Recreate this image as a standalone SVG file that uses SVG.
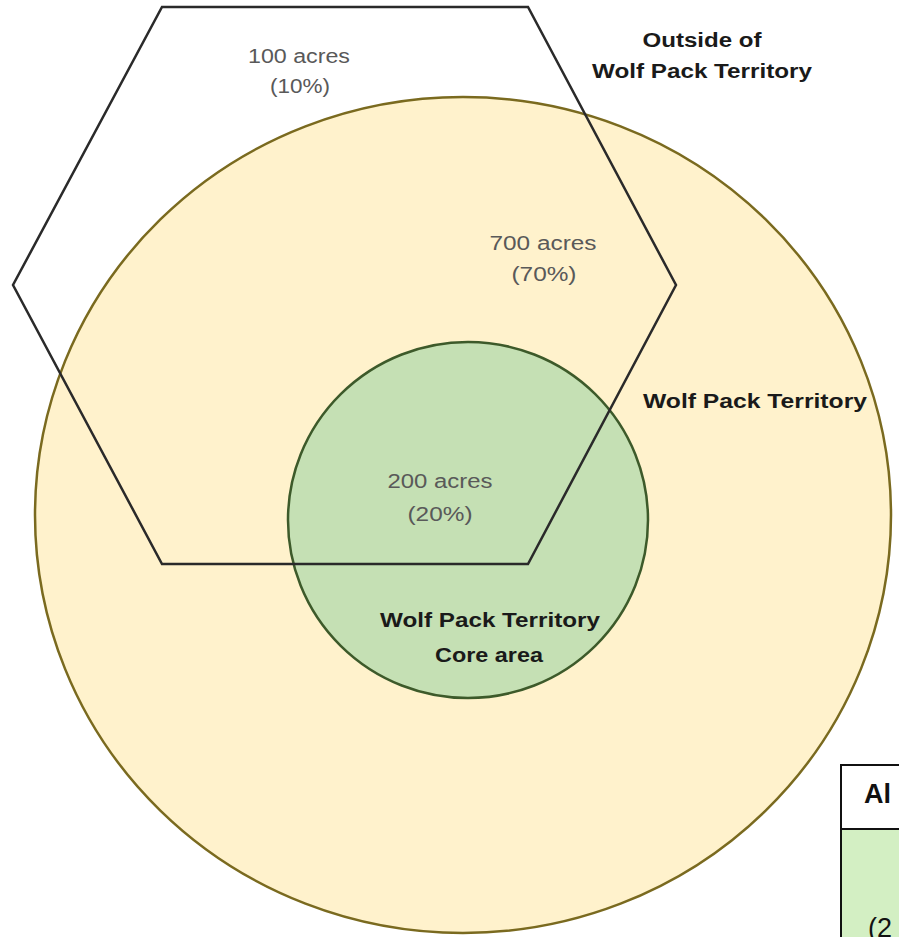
<svg xmlns="http://www.w3.org/2000/svg" width="899" height="937" viewBox="0 0 899 937">
  <style>
    .lbl { font-family: "Liberation Sans", Arial, sans-serif; font-size: 20px; fill: #595959; text-anchor: middle; }
    .bold { font-family: "Liberation Sans", Arial, sans-serif; font-size: 20px; font-weight: bold; fill: #1a1a1a; text-anchor: middle; }
    .tbl { font-family: "Liberation Sans", Arial, sans-serif; font-size: 27px; fill: #111; }
  </style>
  <rect x="0" y="0" width="899" height="937" fill="#ffffff"/>

  <g id="territory">
    <ellipse cx="463" cy="515" rx="428" ry="418" fill="#fff2cc" stroke="#7a6a1f" stroke-width="2.5"/>
  </g>

  <g id="core-area">
    <ellipse cx="468" cy="520" rx="180" ry="178" fill="#c5e0b4" stroke="#3d5a2a" stroke-width="2.5"/>
  </g>

  <g id="hexagon">
    <polygon points="162,7 528,7 676,285 528,564 162,564 13,285" fill="none" stroke="#2a2a2a" stroke-width="2.5" stroke-linejoin="miter"/>
  </g>

  <g id="labels">
    <text class="lbl" x="299" y="63" textLength="102" lengthAdjust="spacingAndGlyphs">100 acres</text>
    <text class="lbl" x="300" y="93" textLength="60" lengthAdjust="spacingAndGlyphs">(10%)</text>

    <text class="bold" x="702" y="47" textLength="119" lengthAdjust="spacingAndGlyphs">Outside of</text>
    <text class="bold" x="702" y="78" textLength="220" lengthAdjust="spacingAndGlyphs">Wolf Pack Territory</text>

    <text class="lbl" x="543" y="250" textLength="107" lengthAdjust="spacingAndGlyphs">700 acres</text>
    <text class="lbl" x="544" y="281" textLength="65" lengthAdjust="spacingAndGlyphs">(70%)</text>

    <text class="bold" x="755" y="408" textLength="224" lengthAdjust="spacingAndGlyphs">Wolf Pack Territory</text>

    <text class="lbl" x="440" y="488" textLength="105" lengthAdjust="spacingAndGlyphs">200 acres</text>
    <text class="lbl" x="440" y="521" textLength="65" lengthAdjust="spacingAndGlyphs">(20%)</text>

    <text class="bold" x="490" y="627" textLength="220" lengthAdjust="spacingAndGlyphs">Wolf Pack Territory</text>
    <text class="bold" x="489" y="662" textLength="108" lengthAdjust="spacingAndGlyphs">Core area</text>
  </g>

  <g id="table">
    <rect x="841" y="765" width="70" height="180" fill="#ffffff" stroke="#111" stroke-width="2"/>
    <rect x="841" y="829" width="70" height="116" fill="#d3efc3" stroke="#111" stroke-width="2"/>
    <text class="tbl" x="864" y="803" font-weight="bold">Al</text>
    <text class="tbl" x="868" y="937">(2</text>
  </g>
</svg>
